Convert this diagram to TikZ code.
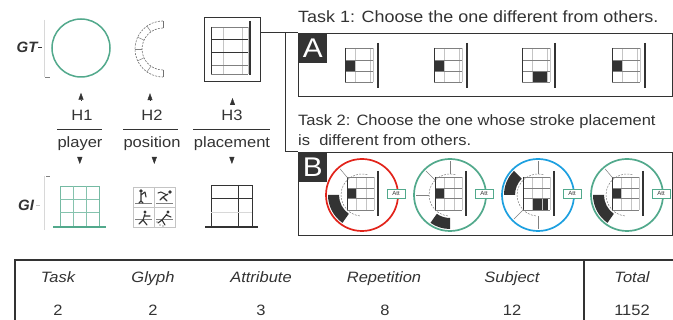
\documentclass[tikz,border=0pt]{standalone}
\usepackage{fontspec}
\setmainfont{Liberation Sans}
\newfontfamily\widesans[FakeStretch=1.1]{Liberation Sans}
\usetikzlibrary{arrows.meta,calc}

\definecolor{ink}{HTML}{333333}
\definecolor{gridgray}{HTML}{C4C4C4}
\definecolor{midgray}{HTML}{808080}
\definecolor{faint}{HTML}{D8D8D8}
\definecolor{glgreen}{HTML}{52A98C}
\definecolor{glred}{HTML}{E2231A}
\definecolor{glblue}{HTML}{1DA0E0}

\tikzset{
  lbl/.style={font=\widesans\fontsize{15}{17}\selectfont, text=ink, inner sep=0pt},
  head/.style={font=\widesans\itshape\fontsize{15}{17}\selectfont, text=ink, inner sep=0pt, anchor=base},
  cell/.style={lbl, anchor=base},
  rowlbl/.style={font=\bfseries\itshape\fontsize{15}{17}\selectfont, text=ink, inner sep=0pt},
  tri/.style={-{Triangle[length=7pt,width=5pt]}, ink, line width=0.4pt},
  rule/.style={ink, line width=0.7pt},
  panel/.style={draw=ink, line width=1.1pt, inner sep=0pt, anchor=north west},
  tag/.style={fill=ink, text=white, font=\widesans\fontsize{27}{27}\selectfont,
    minimum width=29pt, minimum height=30pt, inner sep=0pt, anchor=north west},
  attbox/.style={draw=glgreen, fill=white, line width=0.5pt, minimum width=18pt,
    minimum height=9pt, inner sep=0pt, font=\fontsize{6}{6}\selectfont, text=ink},
  ringdash/.style={midgray, line width=0.5pt, dash pattern=on 2pt off 1.2pt},
}

% small stroke glyph: 3x3 grid with a bar on its right; #1,#2 = top-left corner, #3 = filled cells
\newcommand\taskglyph[3]{%
  \begin{scope}[shift={(#1,#2)}]
    #3
    \draw[gridgray, line width=0.5pt] (10,0)--(10,34) (25,0)--(25,34) (28,0)--(28,34);
    \draw[midgray, line width=0.8pt] (0,0)--(28,0) (0,12)--(28,12) (0,23)--(28,23) (0,34)--(28,34);
    \draw[ink, line width=0.9pt] (0,0)--(0,34);
    \draw[ink, line width=1.6pt] (33,-5)--(33,40);
  \end{scope}}

% stroke glyph inside a coloured ring: centre, colour, filled cell, dark band angles, tick angles
\newcommand\ringglyph[7]{%
  \begin{scope}[shift={(#1,#2)}, yscale=-1]
    #4
    \draw[gridgray, line width=0.5pt] (-6,18)--(-6,-15) (4,18)--(4,-15) (12,18)--(12,-15);
    \draw[midgray, line width=0.7pt] (-15,18)--(12,18) (-15,7)--(12,7) (-15,-3)--(12,-3) (-15,-15)--(12,-15);
    \draw[ink, line width=0.8pt] (-15,18)--(-15,-15);
    \draw[ink, line width=1.4pt] (16,24)--(16,-21);
    \fill[ink] (#5:23) arc[start angle=#5, end angle=#6, radius=23]
      -- (#6:34) arc[start angle=#6, end angle=#5, radius=34] -- cycle;
    \draw[ringdash] (75:21) arc[start angle=75, end angle=265, radius=21];
    \foreach \t in {#7} \draw[midgray, line width=0.5pt] (\t:21)--(\t:34);
    \draw[#3, line width=1.7pt] (0,0) circle[radius=36];
    \node[attbox] at (34,1.5) {Att};
  \end{scope}}

\begin{document}
\begin{tikzpicture}[x=1pt, y=-1pt]
\useasboundingbox (0,0) rectangle (673,320);
\fill[white] (0,0) rectangle (673,320);

% ---------- row labels and faint axis marks ----------
\node[rowlbl] (gt) at (27,47) {GT};
\node[rowlbl] (gi) at (26,205) {GI};
\draw[faint, line width=0.5pt] (44,20)--(44,77) (44,176)--(44,230);
\draw[ink, line width=0.8pt] (38,47)--(42,47);
\draw[midgray, line width=0.6pt] (45,77)--(50,77) (46,176)--(50,176);
\draw[gridgray, line width=0.6pt] (36,205)--(40,205);

% ---------- GT glyphs ----------
\node[draw=glgreen, circle, line width=1.5pt, minimum size=58pt, inner sep=0pt] (gt1) at (81,48) {};

\node[minimum width=30pt, minimum height=58pt, inner sep=0pt] (gt2) at (150,49) {};
\begin{scope}[shift={(163,49)}, yscale=-1]
  \draw[ringdash, draw=ink!70, line width=0.6pt] (90:28) arc[start angle=90, end angle=270, radius=28];
  \draw[ringdash, draw=ink!70, line width=0.6pt] (90:21) arc[start angle=90, end angle=270, radius=21];
  \draw[ink!70, line width=0.6pt] (90:21)--(90:28) (270:21)--(270:28);
  \foreach \a in {125,155,180,205,235} \draw[midgray, line width=0.5pt] (\a:21)--(\a:28);
\end{scope}

\node[panel, line width=1pt, minimum width=56pt, minimum height=64pt] (gt3) at (204,17) {};
\draw[gridgray, line width=0.5pt] (223,27)--(223,74) (242,27)--(242,74) (248,27)--(248,74);
\draw[midgray, line width=0.8pt] (211,27)--(248,27) (211,74)--(248,74) (211,65)--(248,65);
\draw[ink, line width=1pt] (211,40)--(248,40) (211,53)--(248,53) (211,27)--(211,74);
\draw[ink, line width=2.5pt] (250,21)--(250,75);

% ---------- H labels and attributes ----------
\node[lbl] (h1) at (82,115) {H1};
\node[lbl] (h2) at (152,115) {H2};
\node[lbl] (h3) at (232,115) {H3};
\draw[rule] (57,129)--(102,129) (123,129)--(178,129) (193,129)--(270,129);
\node[lbl] (p1) at (80,144) {player};
\node[lbl] (p2) at (152,144) {position};
\node[lbl] (p3) at (232,144) {placement};

% ---------- GI glyphs ----------
\node[panel, draw=glgreen!80, line width=0.6pt, minimum width=39pt, minimum height=41pt] (gi1) at (60,186) {};
\draw[glgreen!70, line width=0.5pt] (73,186)--(73,227) (86,186)--(86,227) (60,199)--(99,199) (60,212)--(99,212);
\draw[glgreen, line width=2.5pt] (53,227)--(106,227);

\node[panel, draw=gridgray, line width=0.6pt, minimum width=42pt, minimum height=40pt] (gi2) at (133,187) {};
\draw[gridgray, line width=0.6pt] (154,187)--(154,227) (133,207)--(175,207);
% player pictograms
\draw[midgray, line width=0.5pt] (135,203)--(152,203) (156,203)--(173,203) (135,219)--(152,219) (156,219)--(173,219);
\begin{scope}[ink, line width=1.1pt, line cap=round]
  \fill (141,191) circle[radius=1.9];
  \draw (141,193)--(141,201) (141,201)--(139,203) (141,201)--(143,203) (141,195)--(145,192) (145,192)--(146,197);
  \fill (170,192) circle[radius=1.8];
  \draw (168,194)--(163,197) (163,197)--(167,201) (163,197)--(160,200) (167,195)--(161,192) (161,192)--(158,193);
  \fill (145,212) circle[radius=1.7];
  \draw (145,214)--(143,220) (143,220)--(147,225) (143,220)--(139,224) (144,216)--(150,216);
  \fill (168,212) circle[radius=1.7];
  \draw (167,214)--(162,220) (162,220)--(165,225) (162,220)--(158,223) (166,215)--(171,217);
  \fill (160,225) circle[radius=0.6] (157,222) circle[radius=0.6] (163,226) circle[radius=0.6];
\end{scope}

\node[panel, line width=0.8pt, minimum width=41pt, minimum height=42pt] (gi3) at (211,185) {};
\draw[ink, line width=0.7pt] (238,185)--(238,227) (211,198)--(252,198);
\draw[faint, line width=0.6pt] (211,212)--(252,212);
\draw[ink, line width=2.5pt] (205,227)--(258,227);

% ---------- arrowheads between rows ----------
\draw[tri, shorten <=9pt, shorten >=15pt] (h1.north -| gt1.south) -- (gt1.south);
\draw[tri, shorten <=9pt, shorten >=15pt] (h2.north -| gt2.south) -- (gt2.south);
\draw[tri, shorten <=9pt, shorten >=16pt] (h3.north -| gt3.south) -- (gt3.south);
\draw[tri, shorten <=6pt, shorten >=22pt] (p1.south -| gi1.north) -- (gi1.north);
\draw[tri, shorten <=6pt, shorten >=23pt] (p2.south -| gi2.north) -- (gi2.north);
\draw[tri, shorten <=6pt, shorten >=21pt] (p3.south -| gi3.north) -- (gi3.north);

% ---------- task panels ----------
\node[font=\widesans\fontsize{16.3}{18}\selectfont, text=ink, inner sep=0pt, anchor=base west] (t1) at (298,23)
  {Task 1: Choose the one different from others.};
\node[panel, minimum width=374pt, minimum height=63pt] (boxA) at (298,33) {};
\node[tag] (tagA) at (298,33) {A};

\node[font=\widesans\fontsize{15}{18}\selectfont, text=ink, inner sep=0pt, anchor=base west] (t2a) at (298,126)
  {Task 2: Choose the one whose stroke placement};
\node[font=\widesans\fontsize{15}{18}\selectfont, text=ink, inner sep=0pt, anchor=base west] (t2b) at (298,146)
  {is\ \ different from others.};
\node[panel, minimum width=374pt, minimum height=83pt] (boxB) at (298,152) {};
\node[tag] (tagB) at (298,152) {B};

% bracket joining H3 to both panels
\coordinate (jt) at (285,33);
\draw[ink, line width=1pt] (gt3.east |- boxA.north west) -- (boxA.north west);
\draw[ink, line width=1pt] (jt) |- (boxB.north west);

% panel A glyphs
\taskglyph{345}{48}{\fill[ink] (0,12) rectangle (10,23);}
\taskglyph{434}{48}{\fill[ink] (0,12) rectangle (10,23);}
\taskglyph{522}{48}{\fill[ink] (10,23) rectangle (26,34);}
\taskglyph{612}{48}{\fill[ink] (0,12) rectangle (10,23);}

% panel B glyphs
\ringglyph{362}{195}{glred}{\fill[ink] (-15,7) rectangle (-6,-3);}{180}{235}{130}
\ringglyph{450}{195}{glgreen}{\fill[ink] (-15,7) rectangle (-6,-3);}{235}{270}{90,135,180}
\ringglyph{538}{195}{glblue}{\fill[ink] (-6,-3) rectangle (10,-15);}{135}{180}{90,225,270}
\ringglyph{627}{195}{glgreen}{\fill[ink] (-15,7) rectangle (-6,-3);}{180}{235}{130}

% ---------- summary table ----------
\draw[ink, line width=1.3pt] (15,260) rectangle (690,340);
\draw[ink, line width=1.3pt] (584,260)--(584,340);
\node[head] (c1) at (58,283) {Task};
\node[head] (c2) at (153,283) {Glyph};
\node[head] (c3) at (261,283) {Attribute};
\node[head] (c4) at (384,283) {Repetition};
\node[head] (c5) at (512,283) {Subject};
\node[head] (c6) at (632,283) {Total};
\node[cell] (v1) at (58,316) {2};
\node[cell] (v2) at (153,316) {2};
\node[cell] (v3) at (261,316) {3};
\node[cell] (v4) at (385,316) {8};
\node[cell] (v5) at (512,316) {12};
\node[cell] (v6) at (632,316) {1152};
\end{tikzpicture}
\end{document}
